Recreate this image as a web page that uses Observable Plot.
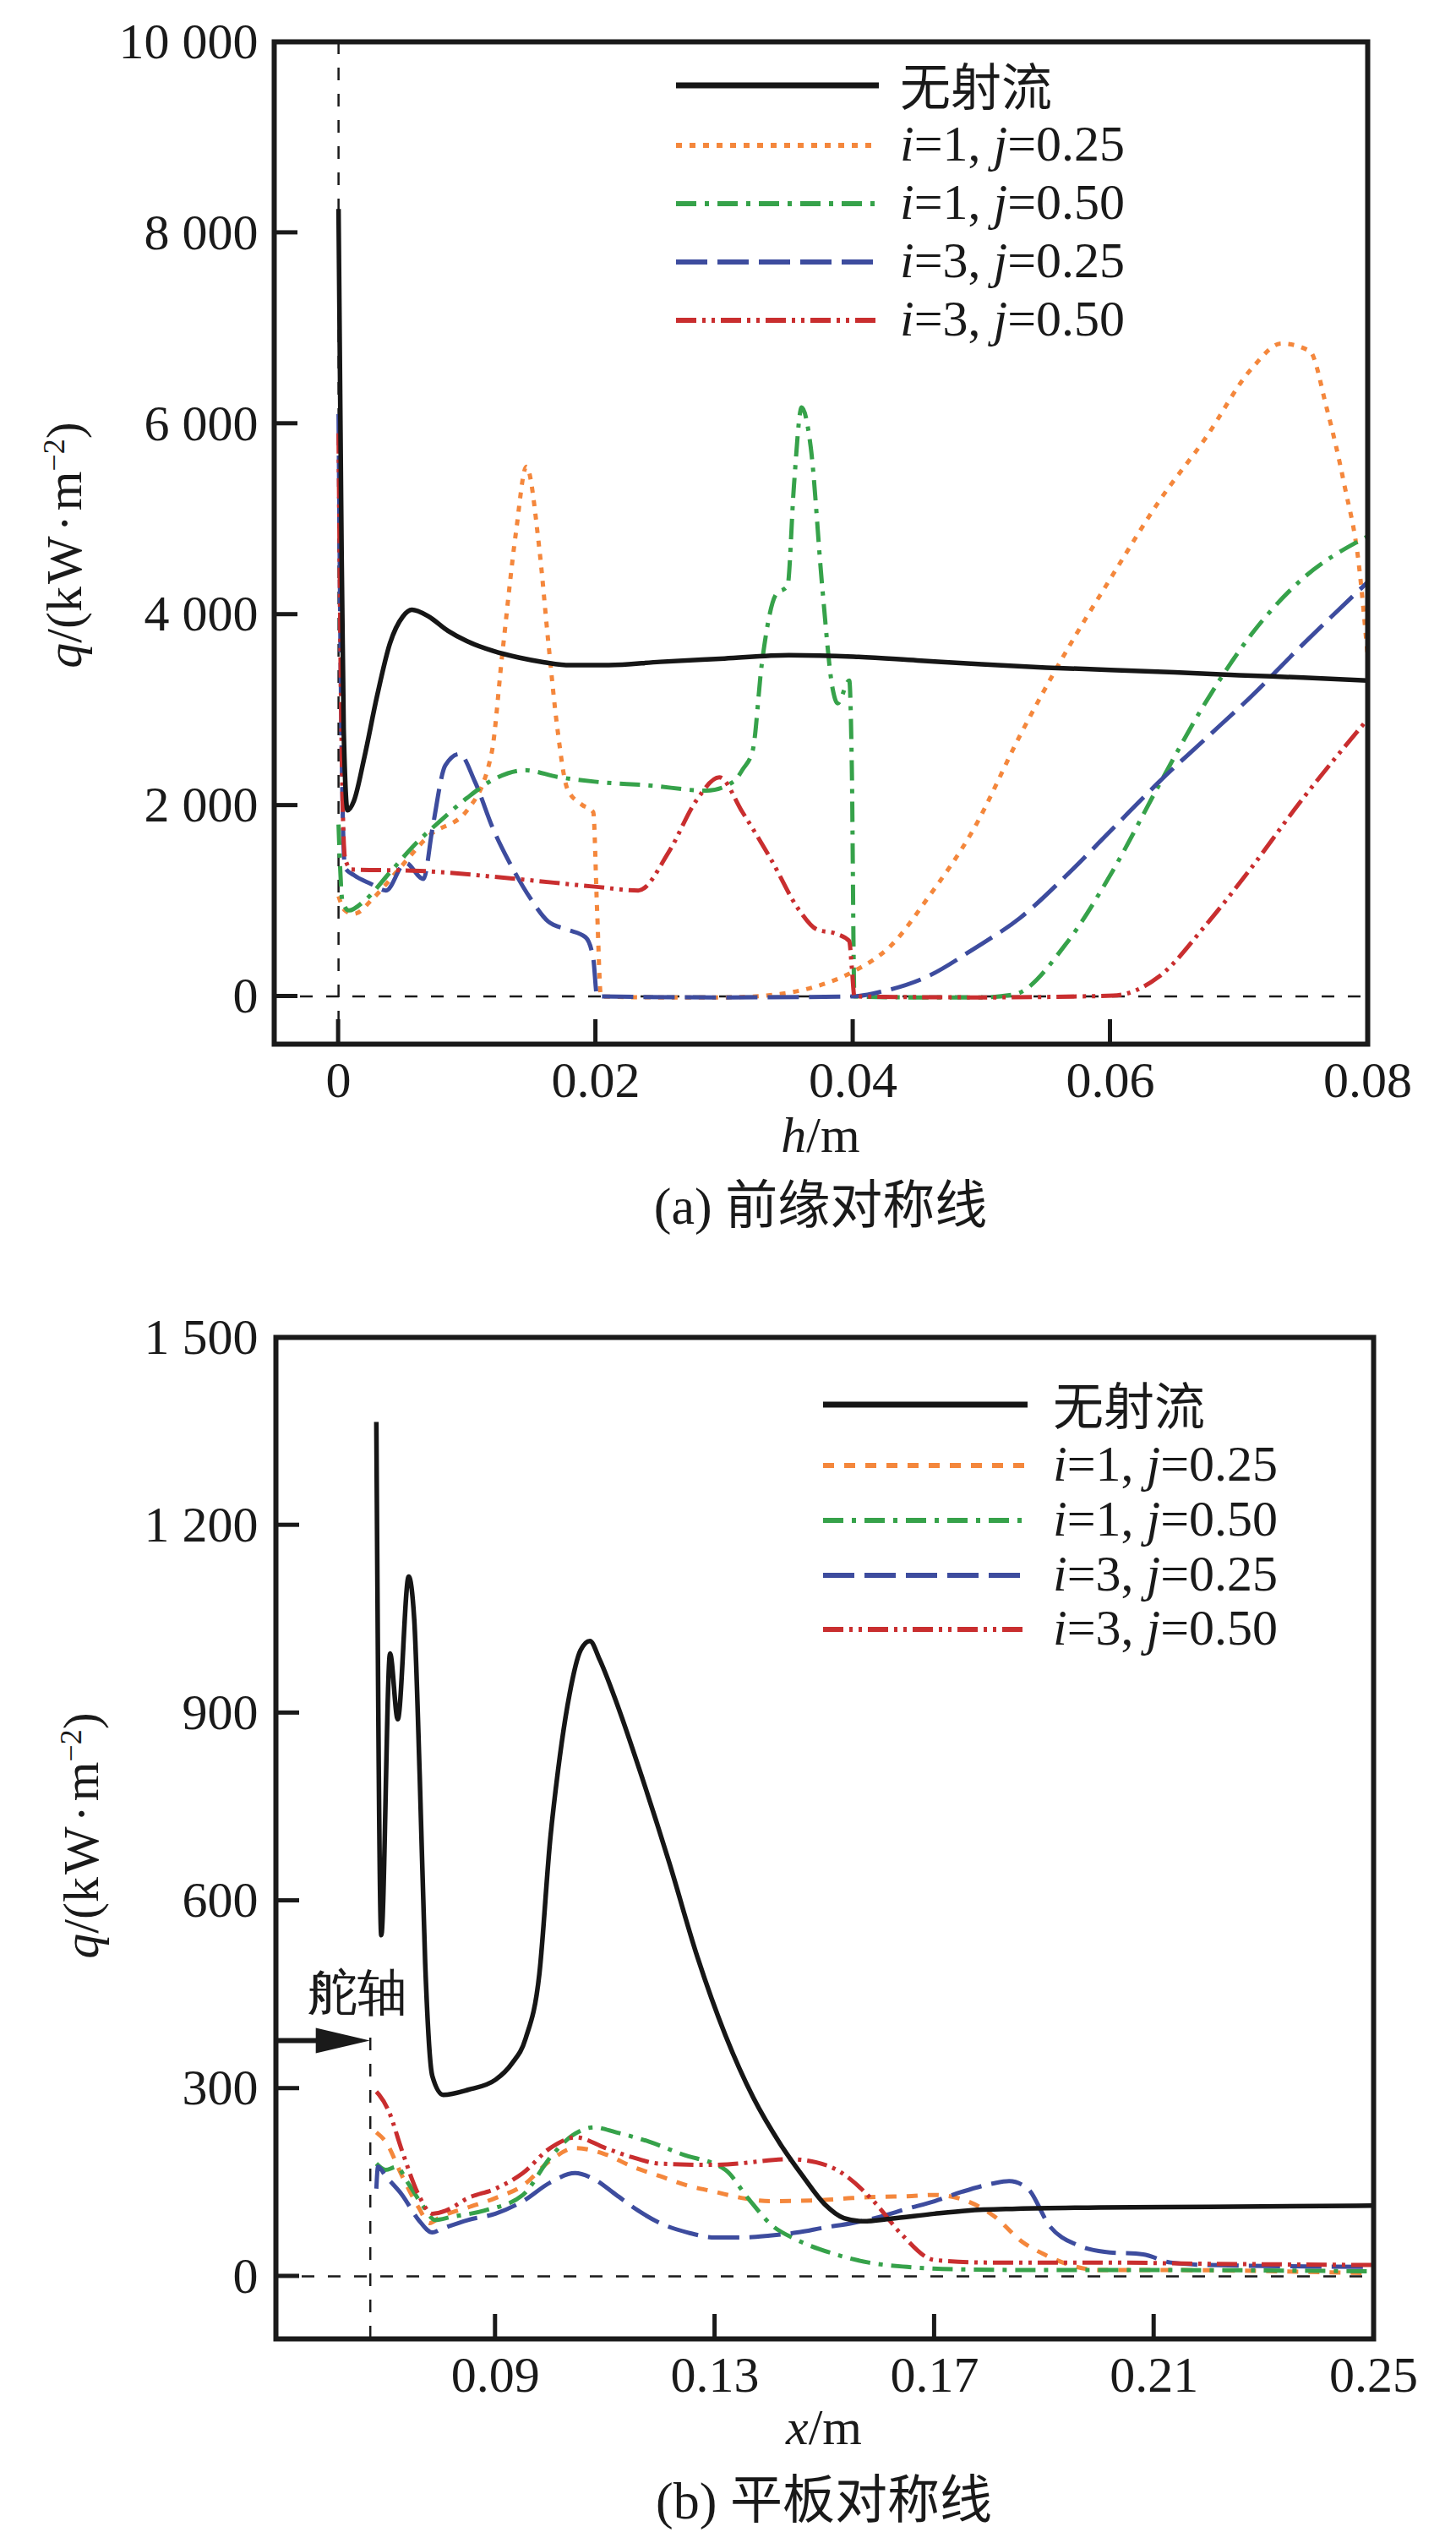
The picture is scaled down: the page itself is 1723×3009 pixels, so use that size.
<!DOCTYPE html>
<html>
<head>
<meta charset="utf-8">
<script src="https://cdn.jsdelivr.net/npm/d3@7"></script>
<script src="https://cdn.jsdelivr.net/npm/@observablehq/plot@0.6"></script>
<style>
  html, body { margin: 0; padding: 0; background: #fff; }
  #page { position: relative; width: 1723px; height: 3009px; background: #fff; overflow: hidden;
          font-family: "Liberation Serif", "Noto Sans CJK SC", serif; color: #1a1a1a; }
  .abs { position: absolute; white-space: nowrap; }
  .ctr { transform: translate(-50%, -50%); }
  .t60 { font-size: 60px; line-height: 60px; }
  .cap { font-size: 62px; line-height: 64px; }
  .cjk { font-family: "Noto Sans CJK SC", sans-serif; }
  sup { font-size: 0.6em; vertical-align: 0; position: relative; top: -0.55em; }
  svg text { font-family: "Liberation Serif", serif; }
</style>
</head>
<body>
<div id="page"></div>
<script>
// ---------------- data ----------------
const seriesNames = ["无射流", "i=1, j=0.25", "i=1, j=0.50", "i=3, j=0.25", "i=3, j=0.50"];
const seriesLabels = ["无射流", "<i>i</i>=1, <i>j</i>=0.25", "<i>i</i>=1, <i>j</i>=0.50", "<i>i</i>=3, <i>j</i>=0.25", "<i>i</i>=3, <i>j</i>=0.50"];

// (a) leading-edge symmetry line: [h (m), q (kW/m²)]
const aNoJet = [[0,8250],[0.0002,5200],[0.0004,2800],[0.0007,1950],[0.0012,2050],[0.002,2500],[0.003,3150],[0.004,3700],[0.005,3980],[0.0057,4050],[0.007,3980],[0.0085,3830],[0.01,3720],[0.012,3620],[0.014,3550],[0.016,3500],[0.018,3470],[0.021,3470],[0.025,3505],[0.03,3540],[0.035,3575],[0.04,3560],[0.045,3520],[0.05,3480],[0.055,3445],[0.06,3420],[0.065,3395],[0.07,3365],[0.075,3340],[0.08,3310]];
const aI1J25 = [[0,1050],[0.0005,900],[0.0012,865],[0.0027,1030],[0.0048,1350],[0.007,1680],[0.01,1950],[0.0119,2550],[0.0127,3550],[0.0138,4870],[0.0146,5550],[0.0156,4700],[0.0163,3720],[0.017,2820],[0.0178,2170],[0.0189,2010],[0.0198,1930],[0.0201,900],[0.0204,0],[0.025,-10],[0.03,-10],[0.034,20],[0.037,100],[0.04,260],[0.043,540],[0.0458,1030],[0.0494,1760],[0.053,2740],[0.0565,3600],[0.0602,4420],[0.0638,5190],[0.0674,5850],[0.071,6580],[0.0733,6840],[0.0755,6760],[0.0768,6170],[0.0782,5350],[0.0793,4540],[0.08,3560]];
const aI1J50 = [[0,1800],[0.0003,1000],[0.0008,900],[0.002,1000],[0.004,1300],[0.006,1600],[0.008,1850],[0.01,2080],[0.012,2270],[0.0145,2370],[0.017,2300],[0.0199,2250],[0.0242,2210],[0.0286,2155],[0.0307,2250],[0.0314,2375],[0.0322,2580],[0.0329,3480],[0.034,4210],[0.0349,4300],[0.0354,5350],[0.036,6170],[0.0367,5760],[0.0376,4290],[0.0384,3230],[0.0388,3070],[0.0397,3310],[0.0399,2400],[0.0401,0],[0.045,-10],[0.05,-10],[0.0525,20],[0.0566,560],[0.0602,1320],[0.0638,2220],[0.0674,3080],[0.071,3800],[0.0746,4335],[0.08,4820]];
const aI3J25 = [[0,6100],[0.0002,3000],[0.0005,1350],[0.0012,1270],[0.0025,1180],[0.0037,1110],[0.0052,1400],[0.0066,1230],[0.0073,1760],[0.0083,2420],[0.0094,2540],[0.0106,2250],[0.012,1760],[0.0135,1350],[0.0149,1030],[0.0163,785],[0.0178,700],[0.0192,620],[0.0198,400],[0.0201,0],[0.03,-10],[0.04,0],[0.0422,50],[0.0458,210],[0.0494,500],[0.053,825],[0.0566,1270],[0.0602,1760],[0.0638,2250],[0.0674,2700],[0.071,3150],[0.0746,3640],[0.08,4340]];
const aI3J50 = [[0,5900],[0.0002,3000],[0.0005,1450],[0.001,1330],[0.0063,1315],[0.0135,1235],[0.0199,1150],[0.0233,1110],[0.0257,1520],[0.0278,2050],[0.0296,2295],[0.0314,1930],[0.0336,1440],[0.0358,905],[0.0372,700],[0.0386,660],[0.0397,580],[0.0399,300],[0.0401,0],[0.05,-10],[0.0602,8],[0.0638,210],[0.0674,745],[0.071,1355],[0.0746,2010],[0.08,2905]];

// (b) plate symmetry line: [x (m), q (kW/m²)]
const bNoJet = [[0.0683,1365],[0.0692,545],[0.0708,995],[0.0722,890],[0.0742,1118],[0.0752,1050],[0.0762,800],[0.0772,500],[0.0785,320],[0.0805,290],[0.085,298],[0.09,314],[0.093,340],[0.0955,380],[0.098,483],[0.1,700],[0.1014,808],[0.1035,930],[0.1055,1000],[0.1072,1015],[0.109,985],[0.1115,930],[0.1166,800],[0.1217,660],[0.1268,510],[0.1319,385],[0.137,285],[0.142,210],[0.146,160],[0.15,115],[0.1535,93],[0.157,88],[0.162,92],[0.17,100],[0.176,105],[0.185,108],[0.2,110],[0.22,111],[0.25,113]];
const bI1J25 = [[0.0683,230],[0.07,215],[0.073,160],[0.076,110],[0.078,85],[0.08,95],[0.085,110],[0.09,125],[0.095,145],[0.1,185],[0.1045,205],[0.11,195],[0.115,175],[0.12,160],[0.125,145],[0.13,135],[0.135,125],[0.14,120],[0.15,122],[0.155,125],[0.16,127],[0.165,128],[0.17,130],[0.176,120],[0.181,95],[0.186,55],[0.19,35],[0.194,20],[0.2,10],[0.21,10],[0.25,5]];
const bI1J50 = [[0.0683,180],[0.07,170],[0.072,175],[0.074,150],[0.077,110],[0.079,90],[0.082,95],[0.088,105],[0.095,130],[0.1,190],[0.104,225],[0.108,238],[0.112,230],[0.118,215],[0.124,195],[0.1319,170],[0.136,125],[0.1403,82],[0.145,58],[0.152,35],[0.158,22],[0.165,15],[0.175,11],[0.19,10],[0.21,10],[0.25,8]];
const bI3J25 = [[0.0683,140],[0.0686,175],[0.07,160],[0.073,130],[0.076,90],[0.0785,70],[0.08,75],[0.085,90],[0.09,100],[0.095,120],[0.1,150],[0.1045,165],[0.108,155],[0.112,130],[0.116,105],[0.12,85],[0.125,70],[0.13,62],[0.135,62],[0.14,65],[0.145,70],[0.15,78],[0.155,85],[0.16,95],[0.165,108],[0.17,120],[0.175,135],[0.1805,148],[0.1836,152],[0.187,140],[0.191,80],[0.196,50],[0.201,39],[0.208,35],[0.213,22],[0.22,18],[0.25,15]];
const bI3J50 = [[0.0683,295],[0.0688,290],[0.0705,265],[0.073,200],[0.076,130],[0.0785,100],[0.081,105],[0.085,125],[0.09,140],[0.095,165],[0.1,205],[0.1047,222],[0.11,205],[0.115,190],[0.12,180],[0.13,178],[0.1437,187],[0.1485,182],[0.1522,170],[0.159,119],[0.164,67],[0.17,26],[0.18,22],[0.2,22],[0.22,20],[0.25,18]];

const aXTicks = [0, 0.02, 0.04, 0.06, 0.08];
const aYTicks = [0, 2000, 4000, 6000, 8000, 10000];
const bXTicks = [0.09, 0.13, 0.17, 0.21, 0.25];
const bYTicks = [0, 300, 600, 900, 1200, 1500];

const rudderShaft = {x: 0.0672, arrowY: 376, lineTop: 393, textX: 0.0649, textY: 452, label: "舵轴"};

// ---------------- styles ----------------
const colors = ["#161616", "#F4873C", "#36A24A", "#3D4C9E", "#C92E2F"];
const widths = [5.5, 5, 5, 5, 5];
const dashA = [null, "7,9", "24,10,5,10", "37,12", "24,7,4,7,4,7"];
const dashB = [null, "13,12", "24,10,5,10", "37,12", "24,7,4,7,4,7"];
const ink = "#1a1a1a";
const serif = "'Liberation Serif', serif";

function rows(arr, name) { return arr.map(([x, y]) => ({x, y, name})); }

const fmtY = d => d >= 1000 ? d3.format(",")(d).replace(/,/g, " ") : String(d);
const fmtX = d => String(d);

function inwardTicks(xt, yt) {
  return (index, scales, values, dims) => {
    const g = d3.create("svg:g").attr("stroke", ink).attr("stroke-width", 5);
    const y0 = dims.height - dims.marginBottom;
    const x0 = dims.marginLeft;
    for (const t of xt) g.append("line").attr("x1", scales.x(t)).attr("x2", scales.x(t)).attr("y1", y0).attr("y2", y0 - 29);
    for (const t of yt) g.append("line").attr("y1", scales.y(t)).attr("y2", scales.y(t)).attr("x1", x0).attr("x2", x0 + 28);
    return g.node();
  };
}

function seriesMarks(list, dashes) {
  const marks = [];
  const order = [1, 2, 3, 4, 0];
  for (const k of order) {
    marks.push(Plot.line(rows(list[k], seriesNames[k]), {
      x: "x", y: "y", stroke: colors[k], strokeWidth: widths[k],
      strokeDasharray: dashes[k] || undefined, strokeLinecap: "butt", strokeLinejoin: "round",
      curve: "monotone-x", clip: true
    }));
  }
  return marks;
}

const page = document.getElementById("page");

// ---------- chart (a) ----------
const chartA = Plot.plot({
  width: 1723, height: 1320,
  marginTop: 49, marginBottom: 85, marginLeft: 324, marginRight: 105,
  style: {fontFamily: serif, fontSize: "60px", color: ink, background: "transparent", overflow: "visible"},
  x: {domain: [-0.005, 0.08], ticks: aXTicks, tickFormat: fmtX, label: null},
  y: {domain: [-500, 10000], ticks: aYTicks, tickFormat: fmtY, label: null},
  marks: [
    Plot.axisX({ticks: aXTicks, tickFormat: fmtX, tickSize: 0, tickPadding: 20, fontSize: 60, fontFamily: serif, label: null}),
    Plot.axisY({ticks: aYTicks, tickFormat: fmtY, tickSize: 0, tickPadding: 19, fontSize: 60, fontFamily: serif, label: null}),
    Plot.ruleY([0], {stroke: ink, strokeWidth: 2.5, strokeDasharray: "15,16"}),
    Plot.ruleX([0], {stroke: ink, strokeWidth: 2.5, strokeDasharray: "15,16"}),
    ...seriesMarks([aNoJet, aI1J25, aI1J50, aI3J25, aI3J50], dashA),
    inwardTicks(aXTicks.slice(0, -1), aYTicks.slice(0, -1)),
    Plot.frame({stroke: ink, strokeWidth: 6})
  ]
});
chartA.style.position = "absolute"; chartA.style.left = "0px"; chartA.style.top = "0px";
page.appendChild(chartA);

// ---------- chart (b) ----------
const shaftArrow = (index, scales) => {
  const g = d3.create("svg:g");
  const xs = scales.x(0.05), xt = scales.x(rudderShaft.x), yy = scales.y(rudderShaft.arrowY);
  const head = 64, half = 15;
  g.append("line").attr("x1", xs).attr("x2", xt - head + 2).attr("y1", yy).attr("y2", yy)
    .attr("stroke", ink).attr("stroke-width", 6);
  g.append("path").attr("d", `M${xt},${yy}L${xt - head},${yy - half}L${xt - head},${yy + half}Z`).attr("fill", ink);
  return g.node();
};

const chartB = Plot.plot({
  width: 1723, height: 1352,
  marginTop: 82, marginBottom: 85, marginLeft: 326, marginRight: 98,
  style: {fontFamily: serif, fontSize: "60px", color: ink, background: "transparent", overflow: "visible"},
  x: {domain: [0.05, 0.25], ticks: bXTicks, tickFormat: fmtX, label: null},
  y: {domain: [-100, 1500], ticks: bYTicks, tickFormat: fmtY, label: null},
  marks: [
    Plot.axisX({ticks: bXTicks, tickFormat: fmtX, tickSize: 0, tickPadding: 20, fontSize: 60, fontFamily: serif, label: null}),
    Plot.axisY({ticks: bYTicks, tickFormat: fmtY, tickSize: 0, tickPadding: 21, fontSize: 60, fontFamily: serif, label: null}),
    Plot.ruleY([0], {stroke: ink, strokeWidth: 2.5, strokeDasharray: "15,16"}),
    Plot.ruleX([rudderShaft], {x: "x", y1: -100, y2: "lineTop", stroke: ink, strokeWidth: 2.5, strokeDasharray: "15,16"}),
    ...seriesMarks([bNoJet, bI1J25, bI1J50, bI3J25, bI3J50], dashB),
    Plot.text([rudderShaft], {x: "textX", y: "textY", text: "label", fontSize: 59, fontFamily: "'Noto Sans CJK SC', sans-serif", fill: ink}),
    shaftArrow,
    inwardTicks(bXTicks.slice(0, -1), bYTicks.slice(0, -1)),
    Plot.frame({stroke: ink, strokeWidth: 6})
  ]
});
chartB.style.position = "absolute"; chartB.style.left = "0px"; chartB.style.top = "1500px";
page.appendChild(chartB);

// ---------- HTML texts: axis labels, captions, legends ----------
function addText(html, cx, cy, cls, extra) {
  const d = document.createElement("div");
  d.className = "abs ctr " + cls;
  d.style.left = cx + "px"; d.style.top = cy + "px";
  if (extra) Object.assign(d.style, extra);
  d.innerHTML = html;
  page.appendChild(d);
  return d;
}
const yLabel = '<i>q</i>/(k<span style="margin-left:3px">W</span><span style="margin:0 5px">·</span>m<sup>−2</sup>)';
addText(yLabel, 80, 645, "t60", {transform: "translate(-50%,-50%) rotate(-90deg)"});
addText(yLabel, 100, 2172, "t60", {transform: "translate(-50%,-50%) rotate(-90deg)"});
addText('<i>h</i>/m', 971, 1343, "t60");
addText('<i>x</i>/m', 975, 2872, "t60");
addText('(a) <span class="cjk">前缘对称线</span>', 971, 1424, "cap");
addText('(b) <span class="cjk">平板对称线</span>', 975, 2956, "cap");

function addLegend(x1, x2, textLeft, rowYs, dashes) {
  rowYs.forEach((y, k) => {
    const svg = d3.create("svg").attr("width", x2 - x1).attr("height", 20)
      .style("position", "absolute").style("left", x1 + "px").style("top", (y - 10) + "px");
    svg.append("line").attr("x1", 0).attr("x2", x2 - x1).attr("y1", 10).attr("y2", 10)
      .attr("stroke", colors[k]).attr("stroke-width", k === 0 ? 7 : 6)
      .attr("stroke-dasharray", dashes[k]).attr("stroke-linecap", "butt");
    page.appendChild(svg.node());
    const d = document.createElement("div");
    d.className = "abs t60";
    d.style.left = textLeft + "px"; d.style.top = (y - 32) + "px";
    d.innerHTML = k === 0 ? '<span class="cjk">' + seriesLabels[k] + '</span>' : seriesLabels[k];
    page.appendChild(d);
  });
}
addLegend(800, 1040, 1065, [101, 172, 241, 310, 379], dashA);
addLegend(974, 1216, 1246, [1662, 1734, 1799, 1864, 1928], dashB);
</script>
</body>
</html>
